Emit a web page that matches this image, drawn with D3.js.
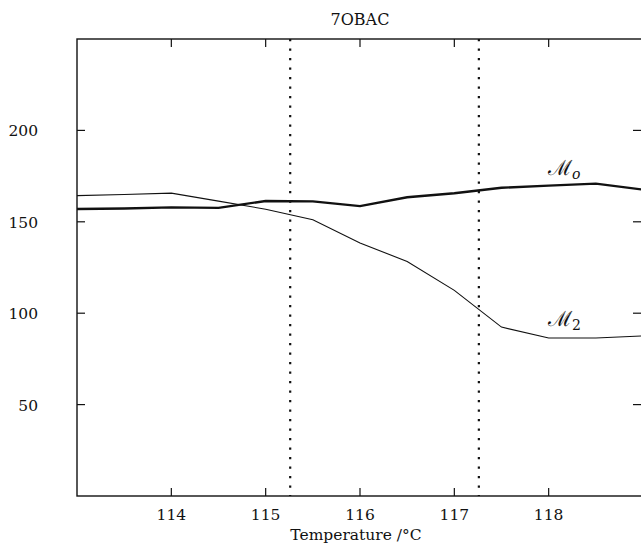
<!DOCTYPE html>
<html>
<head>
<meta charset="utf-8">
<script src="https://cdn.jsdelivr.net/npm/d3@7"></script>
<style>
  body { margin: 0; background: #fff; }
  text { font-family: "DejaVu Serif", "Liberation Serif", serif; fill: #111; }
</style>
</head>
<body>
<script>
// temperatures (deg C) and the two measured curves
var temps = [113, 113.5, 114, 114.5, 115, 115.5, 116, 116.5, 117, 117.5, 118, 118.5, 119];
var mO = [157, 157.3, 157.9, 157.6, 161.4, 161.2, 158.6, 163.4, 165.6, 168.6, 169.8, 170.9, 167.6];
var m2 = [164.3, 164.9, 165.7, 161.3, 156.9, 151.1, 138.4, 128.3, 112.5, 92.4, 86.4, 86.4, 87.6];
var transitions = [115.26, 117.26];
var xTicks = [114, 115, 116, 117, 118];
var yTicks = [50, 100, 150, 200];

var width = 641, height = 545;
var plotL = 77, plotR = 643, plotT = 39, plotB = 496;

var svg = d3.select('body').append('svg')
    .attr('width', width)
    .attr('height', height);

var x = d3.scaleLinear().domain([113, 119]).range([plotL, plotR]);
var y = d3.scaleLinear().domain([0, 250]).range([plotB, plotT]);

// frame
svg.append('rect')
    .attr('x', plotL).attr('y', plotT)
    .attr('width', plotR - plotL).attr('height', plotB - plotT)
    .style('fill', 'none').style('stroke', '#111').style('stroke-width', 1.4);

// inward ticks on all four sides
var tk = 8;
svg.append('g').selectAll('line').data(xTicks).enter().append('line')
    .attr('x1', d => x(d)).attr('x2', d => x(d))
    .attr('y1', plotB).attr('y2', plotB - tk)
    .style('stroke', '#111').style('stroke-width', 1.2);
svg.append('g').selectAll('line').data(xTicks).enter().append('line')
    .attr('x1', d => x(d)).attr('x2', d => x(d))
    .attr('y1', plotT).attr('y2', plotT + tk)
    .style('stroke', '#111').style('stroke-width', 1.2);
svg.append('g').selectAll('line').data(yTicks).enter().append('line')
    .attr('x1', plotL).attr('x2', plotL + tk)
    .attr('y1', d => y(d)).attr('y2', d => y(d))
    .style('stroke', '#111').style('stroke-width', 1.2);
svg.append('g').selectAll('line').data(yTicks).enter().append('line')
    .attr('x1', plotR - 2).attr('x2', plotR - 2 - tk)
    .attr('y1', d => y(d)).attr('y2', d => y(d))
    .style('stroke', '#111').style('stroke-width', 1.2);

// tick labels
svg.append('g').selectAll('text').data(xTicks).enter().append('text')
    .attr('x', d => x(d)).attr('y', 520)
    .attr('text-anchor', 'middle')
    .style('font-size', '15.5px')
    .text(d => d);
svg.append('g').selectAll('text').data(yTicks).enter().append('text')
    .attr('x', 38).attr('y', d => y(d) + 6)
    .attr('text-anchor', 'end')
    .style('font-size', '15.5px')
    .text(d => d);

// dotted transition lines
svg.append('g').selectAll('line').data(transitions).enter().append('line')
    .attr('x1', d => x(d)).attr('x2', d => x(d))
    .attr('y1', plotT).attr('y2', plotB)
    .style('stroke', '#111').style('stroke-width', 2.2)
    .style('stroke-dasharray', '2.2 7.3');

var line = d3.line().x((d, i) => x(temps[i])).y(d => y(d));

svg.append('path').datum(m2)
    .attr('d', line)
    .style('fill', 'none').style('stroke', '#111').style('stroke-width', 1.1);
svg.append('path').datum(mO)
    .attr('d', line)
    .style('fill', 'none').style('stroke', '#111').style('stroke-width', 2.4);

// curve labels
function curveLabel(xp, yp, sub) {
  var t = svg.append('text').attr('x', xp).attr('y', yp)
      .style('font-size', '21px');
  t.append('tspan').text('\u2133');
  t.append('tspan').attr('dy', 4).style('font-size', '14px')
      .style('font-style', sub === 'o' ? 'italic' : 'normal').text(sub);
}
curveLabel(548, 175, 'o');
curveLabel(548, 326, '2');

// title and axis label
svg.append('text')
    .attr('x', (plotL + plotR) / 2).attr('y', 25)
    .attr('text-anchor', 'middle')
    .style('font-size', '16px')
    .text('7OBAC');
svg.append('text')
    .attr('x', (plotL + plotR) / 2 - 4).attr('y', 540)
    .attr('text-anchor', 'middle')
    .style('font-size', '15.5px')
    .text('Temperature /\u00b0C');
</script>
</body>
</html>
